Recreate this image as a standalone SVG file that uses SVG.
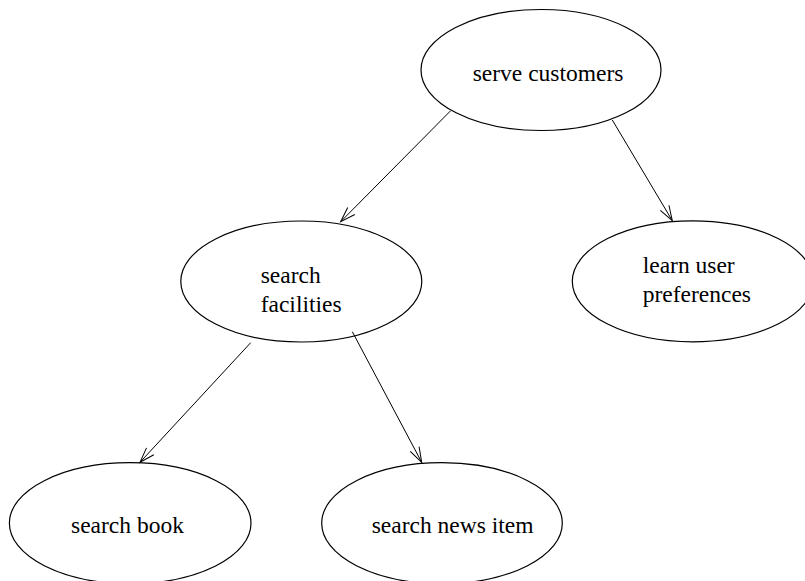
<svg xmlns="http://www.w3.org/2000/svg" width="805" height="581" viewBox="0 0 805 581">
<style>
.node ellipse{fill:none;stroke:#000;stroke-width:1.2}
.node text{font-family:"Liberation Serif","Times New Roman",serif;font-size:23.5px;fill:#000}
.edge{stroke:#000;stroke-width:1;fill:none;marker-end:url(#arr)}
</style>
<defs>
<marker id="arr" markerUnits="userSpaceOnUse" viewBox="-16 -7 18 14" markerWidth="18" markerHeight="14" refX="0" refY="0" orient="auto">
<path d="M-15,-5 L0,0 L-15,5" fill="none" stroke="#000" stroke-width="1"/>
</marker>
</defs>
<rect width="805" height="581" fill="#fff"/>
<g id="connectors">
<line class="edge" x1="450.7" y1="110.7" x2="340.7" y2="221.7"/>
<line class="edge" x1="612.3" y1="120" x2="672.3" y2="220.7"/>
<line class="edge" x1="250.7" y1="342.7" x2="140" y2="462.3"/>
<line class="edge" x1="352.3" y1="331.7" x2="421.7" y2="462.3"/>
</g>
<g id="serve-customers" class="node">
<ellipse cx="541" cy="70" rx="120" ry="60.5"/>
<text x="472.7" y="81">serve customers</text>
</g>
<g id="search-facilities" class="node">
<ellipse cx="301.3" cy="281.5" rx="120.5" ry="60.5"/>
<text x="260.7" y="282.5">search</text>
<text x="260.7" y="311.7">facilities</text>
</g>
<g id="learn-user-preferences" class="node">
<ellipse cx="692.8" cy="281.3" rx="120.5" ry="60.5"/>
<text x="642.7" y="272.7">learn user</text>
<text x="642.7" y="301.7">preferences</text>
</g>
<g id="search-book" class="node">
<ellipse cx="130.2" cy="523.2" rx="120.8" ry="60.5"/>
<text x="71" y="532.7">search book</text>
</g>
<g id="search-news-item" class="node">
<ellipse cx="442" cy="523.2" rx="120.3" ry="60.5"/>
<text x="371.7" y="532.7">search news item</text>
</g>
</svg>
